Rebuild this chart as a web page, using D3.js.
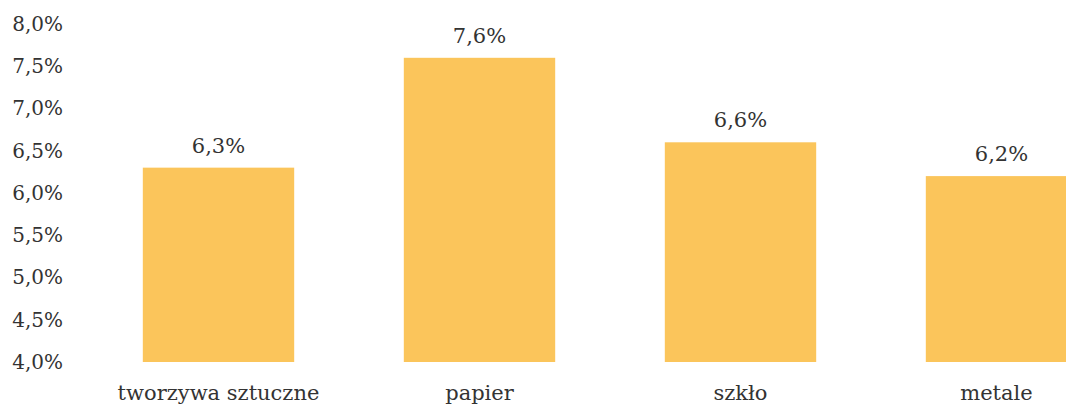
<!DOCTYPE html>
<html><head><meta charset="utf-8">
<script src="https://cdn.jsdelivr.net/npm/d3@7/dist/d3.min.js"></script>
<style>body{margin:0;background:#fff}svg{display:block}</style>
</head><body><svg id="c" width="1066" height="406"></svg>
<script>
const categories = ["tworzywa sztuczne", "papier", "szkło", "metale"];
const values = [6.3, 7.6, 6.6, 6.2];
const yTicks = [4.0, 4.5, 5.0, 5.5, 6.0, 6.5, 7.0, 7.5, 8.0];

const svg = d3.select("#c");
const font = "'DejaVu Serif', serif";
const fmt = v => v.toFixed(1).replace(".", ",") + "%";

const y = d3.scaleLinear().domain([4, 8]).range([362, 24]);
const x = d3.scaleBand().domain(categories).range([88, 1132]).paddingInner(0.42).paddingOuter(0.21);

const yAxis = svg.append("g").attr("transform", "translate(63,0)")
  .call(d3.axisLeft(y).tickValues(yTicks).tickFormat(fmt).tickSize(0).tickPadding(0));
yAxis.select(".domain").remove();
yAxis.selectAll("text").attr("font-family", font).attr("font-size", 20).attr("fill", "#333");

svg.selectAll("rect.bar").data(values).join("rect").attr("class", "bar")
  .attr("x", (d, i) => x(categories[i]))
  .attr("width", x.bandwidth())
  .attr("y", d => y(d))
  .attr("height", d => y(4) - y(d))
  .attr("fill", "#FBC55B");

svg.selectAll("text.val").data(values).join("text").attr("class", "val")
  .attr("x", (d, i) => x(categories[i]) + x.bandwidth() / 2)
  .attr("y", d => y(d) - 15)
  .attr("text-anchor", "middle")
  .attr("font-family", font).attr("font-size", 21).attr("fill", "#333")
  .text(fmt);

const xAxis = svg.append("g").attr("transform", "translate(0,362)")
  .call(d3.axisBottom(x).tickSize(0).tickPadding(0));
xAxis.select(".domain").remove();
xAxis.selectAll("text").attr("font-family", font).attr("font-size", 21).attr("fill", "#333")
  .attr("dy", null).attr("y", 38);
xAxis.selectAll(".tick").filter(d => d === "metale").select("text").attr("dx", -5);
</script></body></html>
